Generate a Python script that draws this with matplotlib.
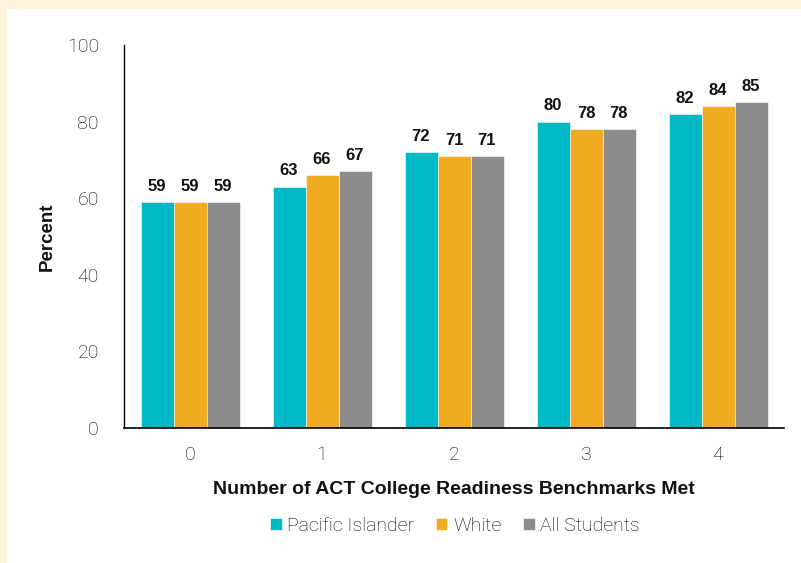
import matplotlib
matplotlib.use("Agg")
import matplotlib.pyplot as plt
import numpy as np
from matplotlib.patches import Rectangle

categories = ["0", "1", "2", "3", "4"]
series_names = ["Pacific Islander", "White", "All Students"]
pacific = [59, 63, 72, 80, 82]
white = [59, 66, 71, 78, 84]
all_students = [59, 67, 71, 78, 85]
yticks = [0, 20, 40, 60, 80, 100]

colors = ["#00B9C6", "#F0AB22", "#8C8C8C"]

plt.rcParams['font.family'] = ['Roboto', 'DejaVu Sans']
BOLD = ['Liberation Sans', 'DejaVu Sans']

fig = plt.figure(figsize=(8.01, 5.63), dpi=100, facecolor="#FEF4DC")
fig.patches.append(Rectangle((7/801, 0), 1, 1 - 9/563, transform=fig.transFigure,
                             facecolor="white", edgecolor="none", zorder=-1))

ax = fig.add_axes([124/801, 1 - 428/563, (784 - 124)/801, (428 - 45)/563])
ax.set_facecolor("none")

x = np.arange(len(categories))
w = 0.25
for i, (vals, c, name) in enumerate(zip([pacific, white, all_students], colors, series_names)):
    pos = x + (i - 1) * w
    ax.bar(pos, vals, width=w, color=c, label=name, edgecolor="white", linewidth=0.4)
    for p, v in zip(pos, vals):
        ax.text(p, v + 2.2, f"{v}", ha="center", va="bottom", fontsize=12,
                fontweight="bold", color="#111111", family=BOLD)

ax.set_xlim(-0.5, 4.5)
ax.set_ylim(0, 100)
ax.set_yticks(yticks)
ax.set_xticks(x)
ax.set_xticklabels(categories)
ax.tick_params(axis="both", length=0, labelsize=14, colors="#000000")
ax.tick_params(axis="y", pad=18)
ax.tick_params(axis="x", pad=13)
for lab in ax.get_xticklabels() + ax.get_yticklabels():
    lab.set_fontweight("light")

for s in ["top", "right"]:
    ax.spines[s].set_visible(False)
ax.spines["left"].set_color("black")
ax.spines["bottom"].set_color("black")
ax.spines["left"].set_linewidth(1.0)
ax.spines["bottom"].set_linewidth(1.2)

ax.set_ylabel("Percent", fontsize=13.5, fontweight="bold", labelpad=8, family=BOLD,
              color="#111111")
ax.set_xlabel("Number of ACT College Readiness Benchmarks Met", fontsize=14,
              fontweight="bold", labelpad=12, family=BOLD, color="#111111")

leg = fig.legend(loc="center", bbox_to_anchor=(455/801, 1 - 526/563), ncol=3, frameon=False,
                 fontsize=14, handlelength=0.6, handleheight=0.6, handletextpad=0.3,
                 columnspacing=1.1)
for t in leg.get_texts():
    t.set_color("#000000")
    t.set_fontweight("light")

fig.savefig("out.png", dpi=100, facecolor=fig.get_facecolor())
